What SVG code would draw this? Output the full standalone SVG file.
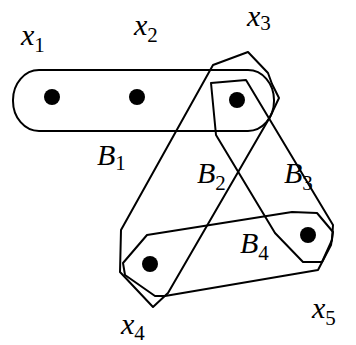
<svg xmlns="http://www.w3.org/2000/svg" width="356" height="345" viewBox="0 0 356 345">
<style>
.edge{fill:none;stroke:#000;stroke-width:2;stroke-linejoin:round}
.dot{fill:#000}
.lbl{font-family:"Liberation Serif",serif;font-style:italic;font-size:30px;fill:#000}
.sub{font-family:"Liberation Serif",serif;font-style:normal;font-size:21px;fill:#000}
</style>
<rect width="356" height="345" fill="#fff"/>
<g id="edges">
<g id="B1">
<rect class="edge" x="13" y="70" width="261" height="61" rx="26" ry="30"/>
<text class="lbl" x="97" y="165">B<tspan class="sub" dy="5">1</tspan></text>
</g>
<g id="B2">
<polygon class="edge" points="213,65 248,52 268,73 272,84 279,98 270,117 168,293 153,307 120,272 121,230"/>
<text class="lbl" x="197" y="183">B<tspan class="sub" dy="7">2</tspan></text>
</g>
<g id="B3">
<polygon class="edge" points="211,83 246,80 333,225 332,240 322,262 303,262 275,233 216,135"/>
<text class="lbl" x="284" y="183">B<tspan class="sub" dy="7">3</tspan></text>
</g>
<g id="B4">
<polygon class="edge" points="147,235 292,212 317,213 333,232 331,245 318,270 165,296 155,296 125,275 123,263"/>
<text class="lbl" x="240" y="253">B<tspan class="sub" dy="7">4</tspan></text>
</g>
</g>
<g id="x1"><circle class="dot" cx="52" cy="97" r="8"/><text class="lbl" x="21" y="45">x<tspan class="sub" dy="7">1</tspan></text></g>
<g id="x2"><circle class="dot" cx="137" cy="97" r="8"/><text class="lbl" x="134" y="35">x<tspan class="sub" dy="7">2</tspan></text></g>
<g id="x3"><circle class="dot" cx="237" cy="100" r="8"/><text class="lbl" x="247" y="26" font-size="28">x<tspan class="sub" dy="4">3</tspan></text></g>
<g id="x4"><circle class="dot" cx="150" cy="264" r="8"/><text class="lbl" x="121" y="334">x<tspan class="sub" dy="6" font-size="20">4</tspan></text></g>
<g id="x5"><circle class="dot" cx="308" cy="235" r="8"/><text class="lbl" x="312" y="318">x<tspan class="sub" dy="7">5</tspan></text></g>
</svg>
